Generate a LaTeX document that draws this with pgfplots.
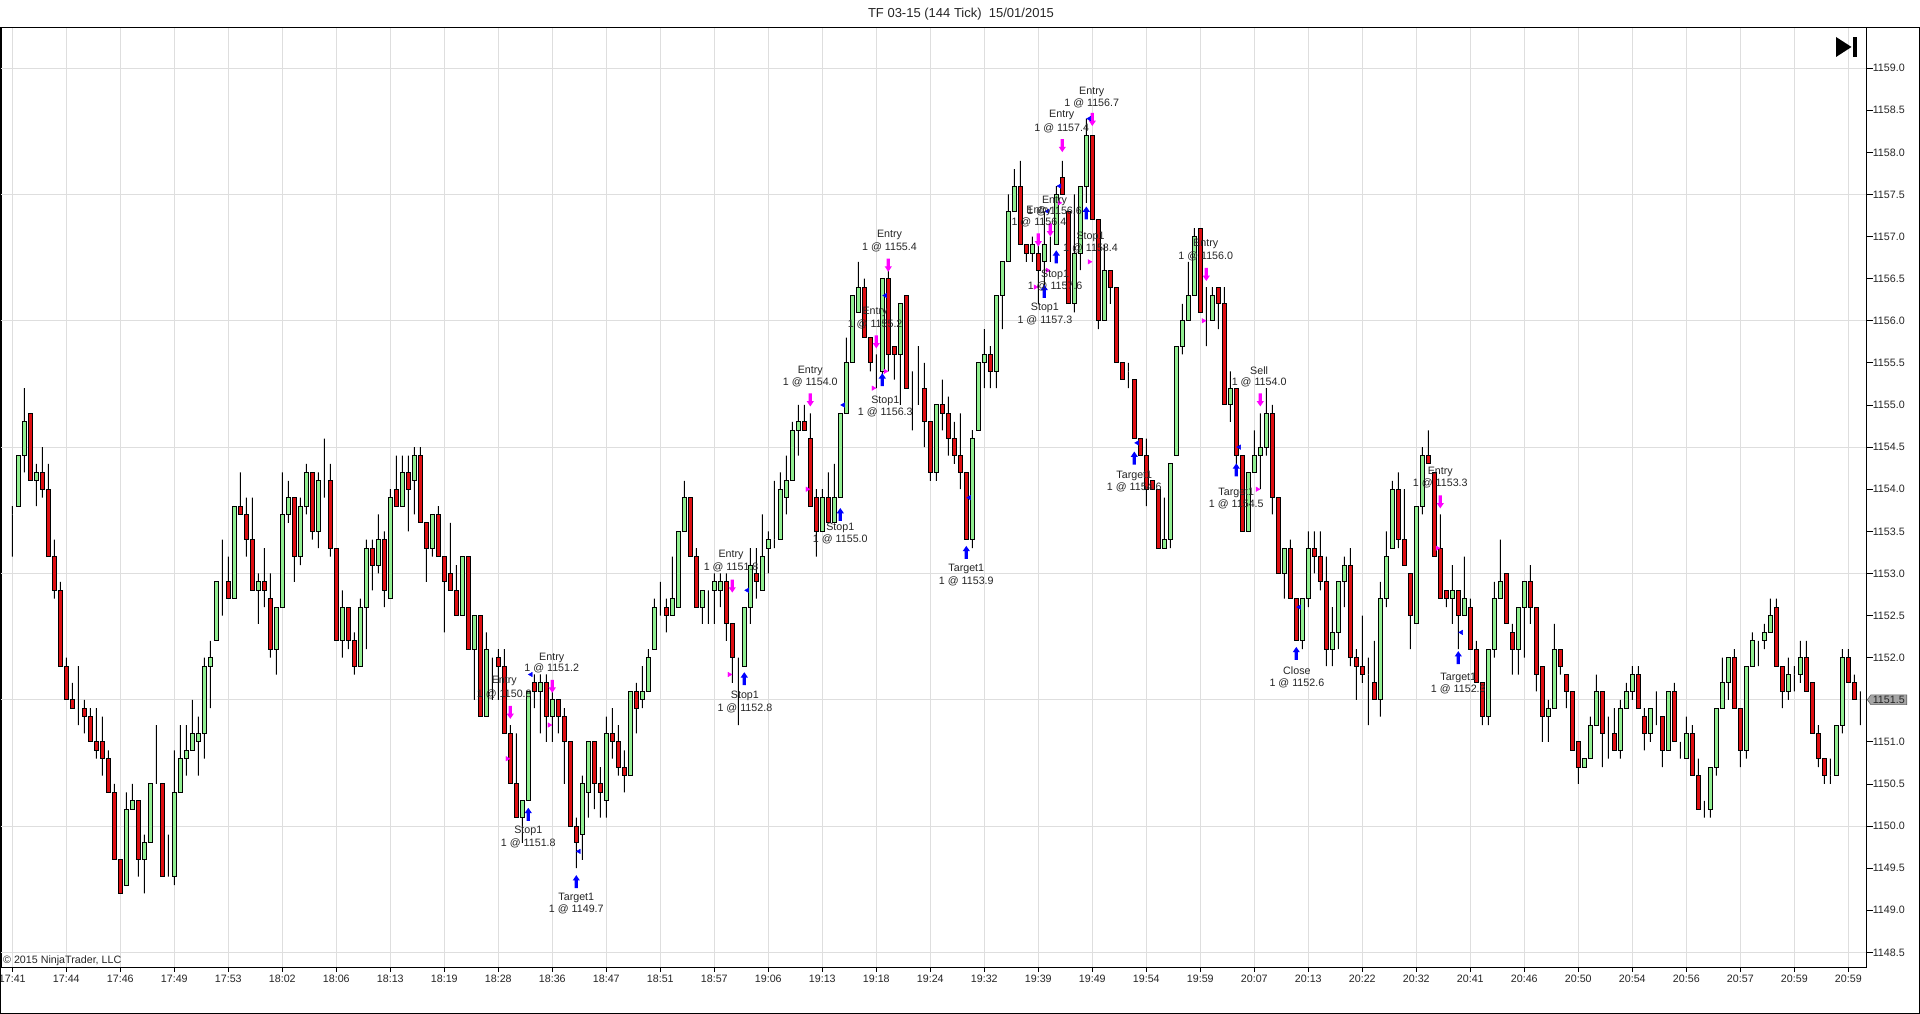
\documentclass[border=0pt]{standalone}
\usepackage{fontspec}
\setmainfont{Liberation Sans}
\usepackage{pgfplots}
\usepackage{pgfplotstable}
\pgfplotsset{compat=1.18}
\usetikzlibrary{shapes.symbols}

\definecolor{upgreen}{RGB}{144,238,144}
\definecolor{dnred}{RGB}{222,14,18}
\definecolor{ntblue}{RGB}{0,0,255}
\definecolor{ntmag}{RGB}{255,0,255}
\definecolor{gridgray}{RGB}{222,222,222}
\definecolor{boxgray}{RGB}{165,165,165}

\newcommand\lbl{\fontsize{10.7}{12}\selectfont}
% prices are drawn relative to this base, so the bars stay short
\newcommand\pbase{1148}

% block arrows used by the order markers
\pgfdeclareplotmark{uparr}{%
  \pgfpathmoveto{\pgfqpoint{0pt}{6.5pt}}%
  \pgfpathlineto{\pgfqpoint{3.6pt}{1.2pt}}%
  \pgfpathlineto{\pgfqpoint{1.6pt}{1.2pt}}%
  \pgfpathlineto{\pgfqpoint{1.6pt}{-6.5pt}}%
  \pgfpathlineto{\pgfqpoint{-1.6pt}{-6.5pt}}%
  \pgfpathlineto{\pgfqpoint{-1.6pt}{1.2pt}}%
  \pgfpathlineto{\pgfqpoint{-3.6pt}{1.2pt}}%
  \pgfpathclose\pgfusepathqfill}
\pgfdeclareplotmark{dnarr}{%
  \pgfpathmoveto{\pgfqpoint{0pt}{-6.5pt}}%
  \pgfpathlineto{\pgfqpoint{3.6pt}{-1.2pt}}%
  \pgfpathlineto{\pgfqpoint{1.6pt}{-1.2pt}}%
  \pgfpathlineto{\pgfqpoint{1.6pt}{6.5pt}}%
  \pgfpathlineto{\pgfqpoint{-1.6pt}{6.5pt}}%
  \pgfpathlineto{\pgfqpoint{-1.6pt}{-1.2pt}}%
  \pgfpathlineto{\pgfqpoint{-3.6pt}{-1.2pt}}%
  \pgfpathclose\pgfusepathqfill}
% empty mark, only carries the label text
\pgfdeclareplotmark{blank}{}

% bar  open  high  low  close
\pgfplotstableread{
x o h l c
0 1153.7 1153.8 1153.2 1153.7
1 1153.8 1154.4 1153.8 1154.4
2 1154.4 1155.2 1154.2 1154.8
3 1154.9 1154.9 1154.1 1154.1
4 1154.1 1154.3 1153.8 1154.2
5 1154.2 1154.5 1153.9 1154.0
6 1154.0 1154.3 1153.2 1153.2
7 1153.2 1153.4 1152.7 1152.8
8 1152.8 1152.9 1151.9 1151.9
9 1151.9 1152.0 1151.5 1151.5
10 1151.5 1151.7 1151.4 1151.4
11 1151.4 1151.9 1151.2 1151.4
12 1151.4 1151.5 1151.1 1151.3
13 1151.3 1151.4 1151.0 1151.0
14 1151.0 1151.4 1150.8 1150.9
15 1151.0 1151.3 1150.6 1150.8
16 1150.8 1150.9 1150.4 1150.4
17 1150.4 1150.5 1149.6 1149.6
18 1149.6 1149.6 1149.2 1149.2
19 1149.3 1150.4 1149.3 1150.2
20 1150.2 1150.5 1150.2 1150.3
21 1150.3 1150.3 1149.4 1149.6
22 1149.6 1149.9 1149.2 1149.8
23 1149.8 1150.5 1149.8 1150.5
24 1150.5 1151.2 1150.5 1150.5
25 1150.5 1150.5 1149.4 1149.4
26 1149.4 1149.9 1149.4 1149.4
27 1149.4 1150.9 1149.3 1150.4
28 1150.4 1151.2 1150.4 1150.8
29 1150.8 1151.2 1150.6 1150.9
30 1150.9 1151.5 1150.9 1151.1
31 1151.0 1151.3 1150.6 1151.1
32 1151.1 1152.0 1150.8 1151.9
33 1151.9 1152.2 1151.4 1152.0
34 1152.2 1152.9 1152.2 1152.9
35 1152.9 1153.4 1152.5 1152.9
36 1152.9 1153.2 1152.7 1152.7
37 1152.7 1153.8 1152.7 1153.8
38 1153.8 1154.2 1153.7 1153.7
39 1153.7 1153.9 1153.2 1153.4
40 1153.4 1153.9 1152.8 1152.8
41 1152.8 1153.0 1152.4 1152.9
42 1152.9 1153.3 1152.6 1152.8
43 1152.7 1153.0 1152.0 1152.1
44 1152.1 1152.6 1151.8 1152.6
45 1152.6 1154.2 1152.6 1153.7
46 1153.7 1154.1 1153.6 1153.9
47 1153.9 1153.9 1152.9 1153.2
48 1153.2 1153.9 1153.1 1153.8
49 1153.8 1154.3 1153.7 1154.2
50 1154.2 1154.2 1153.4 1153.5
51 1153.5 1154.2 1153.3 1154.1
52 1154.1 1154.6 1153.9 1154.1
53 1154.1 1154.3 1153.2 1153.3
54 1153.3 1153.3 1152.2 1152.2
55 1152.2 1152.8 1152.0 1152.6
56 1152.6 1152.6 1152.1 1152.2
57 1152.2 1152.3 1151.8 1151.9
58 1151.9 1152.7 1151.9 1152.6
59 1152.6 1153.4 1152.1 1153.3
60 1153.3 1153.4 1152.8 1153.1
61 1153.1 1153.7 1153.0 1153.4
62 1153.4 1153.5 1152.6 1152.8
63 1152.7 1154.0 1152.7 1153.9
64 1154.0 1154.4 1153.8 1153.8
65 1153.8 1154.4 1153.8 1154.2
66 1154.2 1154.4 1153.5 1154.0
67 1154.1 1154.5 1153.7 1154.4
68 1154.4 1154.5 1153.6 1153.6
69 1153.6 1153.6 1152.9 1153.3
70 1153.3 1153.7 1153.2 1153.7
71 1153.7 1153.8 1153.2 1153.2
72 1153.2 1153.2 1152.3 1152.9
73 1153.0 1153.6 1152.8 1152.8
74 1152.8 1153.1 1152.5 1152.5
75 1152.5 1153.2 1152.5 1153.2
76 1153.2 1153.2 1152.1 1152.1
77 1152.1 1152.5 1151.5 1152.5
78 1152.5 1152.5 1151.3 1151.3
79 1151.3 1152.3 1151.3 1152.1
80 1152.0 1152.0 1151.5 1152.0
81 1152.0 1152.1 1151.5 1151.9
82 1151.9 1152.1 1151.1 1151.1
83 1151.1 1151.2 1150.5 1150.5
84 1150.5 1151.1 1150.1 1150.1
85 1150.1 1150.3 1149.8 1150.3
86 1150.3 1151.6 1150.3 1151.6
87 1151.7 1151.8 1151.4 1151.6
88 1151.6 1151.8 1151.1 1151.7
89 1151.7 1151.8 1151.0 1151.3
90 1151.3 1151.7 1151.0 1151.5
91 1151.5 1151.5 1151.1 1151.3
92 1151.3 1151.4 1150.5 1151.0
93 1151.0 1151.0 1150.0 1150.0
94 1150.0 1150.1 1149.5 1149.8
95 1149.9 1150.6 1149.6 1150.5
96 1150.4 1151.0 1150.1 1151.0
97 1151.0 1151.0 1150.2 1150.5
98 1150.5 1150.7 1150.1 1150.4
99 1150.3 1151.3 1150.1 1151.1
100 1151.1 1151.4 1150.8 1151.0
101 1151.0 1151.2 1150.6 1150.7
102 1150.7 1150.9 1150.4 1150.6
103 1150.6 1151.6 1150.6 1151.6
104 1151.6 1151.7 1151.1 1151.4
105 1151.5 1151.9 1151.4 1151.6
106 1151.6 1152.1 1151.6 1152.0
107 1152.1 1152.7 1152.1 1152.6
108 1152.6 1152.9 1152.5 1152.6
109 1152.6 1152.7 1152.3 1152.5
110 1152.5 1153.2 1152.5 1152.7
111 1152.6 1153.5 1152.6 1153.5
112 1153.5 1154.1 1153.5 1153.9
113 1153.9 1153.9 1153.2 1153.2
114 1153.2 1153.3 1152.6 1152.6
115 1152.6 1152.8 1152.4 1152.8
116 1152.8 1152.8 1152.4 1152.8
117 1152.8 1153.0 1152.4 1152.9
118 1152.8 1153.0 1152.6 1152.9
119 1152.9 1153.0 1152.2 1152.4
120 1152.4 1152.4 1151.7 1152.0
121 1152.0 1152.0 1151.2 1152.0
122 1151.9 1152.6 1151.9 1152.6
123 1152.6 1153.3 1152.4 1153.1
124 1153.0 1153.3 1152.7 1152.9
125 1152.8 1153.7 1152.8 1153.2
126 1153.3 1153.5 1153.0 1153.4
127 1153.4 1154.1 1153.3 1153.4
128 1153.4 1154.2 1153.4 1154.0
129 1153.9 1154.4 1153.7 1154.1
130 1154.1 1154.8 1154.1 1154.7
131 1154.7 1155.0 1154.4 1154.8
132 1154.8 1155.0 1154.7 1154.7
133 1154.6 1154.9 1153.8 1153.8
134 1153.9 1154.0 1153.2 1153.5
135 1153.5 1154.0 1153.5 1153.9
136 1153.9 1154.2 1153.6 1153.6
137 1153.6 1154.3 1153.6 1153.9
138 1153.9 1154.9 1153.9 1154.9
139 1154.9 1155.8 1154.9 1155.5
140 1155.5 1156.3 1155.5 1156.3
141 1156.1 1156.7 1156.1 1156.4
142 1156.4 1156.5 1155.8 1155.8
143 1155.8 1155.8 1155.4 1155.5
144 1155.5 1155.6 1155.2 1155.5
145 1155.4 1156.5 1155.3 1156.5
146 1156.5 1156.7 1155.4 1155.6
147 1155.7 1155.7 1155.3 1155.6
148 1155.6 1156.2 1155.0 1156.2
149 1156.3 1156.3 1155.2 1155.2
150 1155.2 1155.4 1154.7 1155.2
151 1155.2 1155.7 1155.0 1155.2
152 1155.2 1155.5 1154.5 1154.8
153 1154.8 1154.8 1154.1 1154.2
154 1154.2 1155.0 1154.1 1155.0
155 1155.0 1155.3 1154.7 1154.9
156 1154.9 1155.1 1154.4 1154.6
157 1154.6 1154.8 1154.3 1154.4
158 1154.4 1154.9 1154.0 1154.2
159 1154.2 1154.2 1153.4 1153.4
160 1153.4 1154.7 1153.3 1154.6
161 1154.7 1155.5 1154.7 1155.5
162 1155.5 1155.9 1155.2 1155.6
163 1155.6 1155.7 1155.2 1155.4
164 1155.4 1156.3 1155.2 1156.3
165 1156.3 1156.7 1155.9 1156.7
166 1156.7 1157.5 1156.7 1157.3
167 1157.3 1157.8 1157.3 1157.6
168 1157.6 1157.9 1156.9 1156.9
169 1156.9 1156.9 1156.7 1156.8
170 1156.8 1157.0 1156.7 1156.9
171 1156.8 1157.0 1156.2 1156.6
172 1156.7 1157.3 1156.3 1156.9
173 1156.9 1157.0 1156.7 1156.9
174 1156.9 1157.6 1156.9 1157.5
175 1157.7 1157.9 1157.5 1157.5
176 1157.3 1157.3 1156.2 1156.2
177 1156.2 1157.5 1156.1 1156.8
178 1156.8 1157.6 1156.6 1157.6
179 1157.6 1158.4 1157.4 1158.2
180 1158.2 1158.2 1157.2 1157.2
181 1157.2 1157.2 1155.9 1156.0
182 1156.0 1156.9 1156.0 1156.6
183 1156.6 1156.6 1156.2 1156.4
184 1156.4 1156.4 1155.5 1155.5
185 1155.5 1155.5 1155.3 1155.3
186 1155.4 1155.5 1155.2 1155.4
187 1155.3 1155.3 1154.6 1154.6
188 1154.6 1154.6 1154.4 1154.4
189 1154.4 1154.6 1153.8 1154.0
190 1154.1 1154.1 1154.0 1154.0
191 1154.0 1154.0 1153.3 1153.3
192 1153.3 1153.9 1153.3 1153.4
193 1153.4 1154.3 1153.3 1154.3
194 1154.4 1155.7 1154.4 1155.7
195 1155.7 1156.2 1155.6 1156.0
196 1156.0 1156.7 1156.0 1156.3
197 1156.3 1157.1 1156.3 1157.0
198 1157.1 1157.1 1156.1 1156.1
199 1156.0 1156.4 1155.7 1156.0
200 1156.0 1156.4 1156.0 1156.3
201 1156.4 1156.4 1155.9 1156.2
202 1156.2 1156.4 1155.0 1155.0
203 1155.0 1155.4 1154.8 1155.2
204 1155.2 1155.2 1154.3 1154.4
205 1154.4 1154.4 1153.5 1153.5
206 1153.5 1154.2 1153.5 1154.2
207 1154.2 1154.7 1154.2 1154.4
208 1154.4 1154.9 1154.0 1154.5
209 1154.5 1155.2 1154.4 1154.9
210 1154.9 1155.0 1153.7 1153.9
211 1153.9 1153.9 1153.0 1153.0
212 1153.0 1153.3 1152.7 1153.3
213 1153.3 1153.4 1152.7 1152.7
214 1152.7 1152.7 1152.2 1152.2
215 1152.2 1152.7 1152.1 1152.7
216 1152.7 1153.5 1152.6 1153.3
217 1153.3 1153.5 1153.0 1153.2
218 1153.2 1153.5 1152.8 1152.9
219 1152.9 1153.2 1151.9 1152.1
220 1152.1 1152.6 1151.9 1152.3
221 1152.3 1152.9 1152.1 1152.9
222 1152.9 1153.2 1152.6 1153.1
223 1153.1 1153.3 1151.9 1152.0
224 1152.0 1152.1 1151.5 1151.9
225 1151.9 1152.5 1151.7 1151.8
226 1151.8 1152.0 1151.2 1151.8
227 1151.7 1152.2 1151.5 1151.5
228 1151.5 1152.9 1151.3 1152.7
229 1152.7 1153.5 1152.6 1153.2
230 1153.3 1154.1 1153.3 1154.0
231 1154.0 1154.2 1153.3 1153.4
232 1153.4 1154.0 1153.1 1153.1
233 1153.0 1153.0 1152.1 1152.5
234 1152.4 1153.8 1152.4 1153.8
235 1153.8 1154.5 1153.7 1154.4
236 1154.4 1154.7 1154.3 1154.3
237 1154.2 1154.2 1153.2 1153.2
238 1153.3 1153.7 1152.7 1152.7
239 1152.8 1152.8 1152.6 1152.7
240 1152.7 1153.1 1152.4 1152.8
241 1152.8 1152.8 1152.1 1152.5
242 1152.5 1153.2 1152.5 1152.7
243 1152.6 1152.7 1152.1 1152.1
244 1152.1 1152.2 1151.7 1151.7
245 1151.7 1151.7 1151.2 1151.3
246 1151.3 1152.1 1151.2 1152.1
247 1152.1 1152.9 1152.0 1152.7
248 1152.7 1153.4 1152.7 1152.9
249 1153.0 1153.0 1152.4 1152.4
250 1152.3 1152.4 1151.8 1152.1
251 1152.1 1152.6 1151.8 1152.6
252 1152.6 1152.9 1152.0 1152.9
253 1152.9 1153.1 1152.4 1152.6
254 1152.6 1152.6 1151.6 1151.8
255 1151.9 1151.9 1151.0 1151.3
256 1151.3 1151.5 1151.0 1151.4
257 1151.4 1152.4 1151.4 1152.1
258 1152.1 1152.1 1151.8 1151.9
259 1151.8 1151.8 1151.4 1151.6
260 1151.6 1151.6 1150.9 1150.9
261 1151.0 1151.0 1150.5 1150.7
262 1150.7 1150.8 1150.7 1150.8
263 1150.8 1151.3 1150.8 1151.2
264 1151.2 1151.8 1151.2 1151.6
265 1151.6 1151.6 1150.7 1151.1
266 1151.2 1151.3 1150.8 1151.2
267 1151.1 1151.4 1150.9 1150.9
268 1150.9 1151.5 1150.8 1151.4
269 1151.4 1151.7 1151.4 1151.6
270 1151.6 1151.9 1151.5 1151.8
271 1151.8 1151.9 1151.4 1151.4
272 1151.3 1151.4 1150.9 1151.1
273 1151.1 1151.4 1151.0 1151.4
274 1151.4 1151.6 1151.2 1151.4
275 1151.3 1151.3 1150.7 1150.9
276 1150.9 1151.6 1150.9 1151.6
277 1151.6 1151.7 1151.0 1151.0
278 1151.0 1151.0 1150.8 1151.0
279 1150.8 1151.3 1150.8 1151.1
280 1151.1 1151.2 1150.6 1150.6
281 1150.6 1150.8 1150.2 1150.2
282 1150.2 1150.3 1150.1 1150.2
283 1150.2 1150.7 1150.1 1150.7
284 1150.7 1151.4 1150.6 1151.4
285 1151.4 1152.0 1151.4 1151.7
286 1151.7 1152.0 1151.5 1152.0
287 1152.0 1152.1 1151.4 1151.4
288 1151.4 1151.4 1150.7 1150.9
289 1150.9 1151.9 1150.8 1151.9
290 1151.9 1152.3 1151.9 1152.2
291 1152.2 1152.2 1151.9 1152.2
292 1152.2 1152.4 1152.1 1152.3
293 1152.3 1152.7 1152.3 1152.5
294 1152.6 1152.7 1151.9 1151.9
295 1151.9 1151.9 1151.4 1151.6
296 1151.6 1152.0 1151.5 1151.8
297 1151.8 1151.9 1151.6 1151.8
298 1151.8 1152.2 1151.7 1152.0
299 1152.0 1152.2 1151.6 1151.6
300 1151.7 1151.7 1151.1 1151.1
301 1151.1 1151.2 1150.7 1150.8
302 1150.8 1150.8 1150.5 1150.6
303 1150.6 1150.8 1150.5 1150.6
304 1150.6 1151.2 1150.6 1151.2
305 1151.2 1152.1 1151.1 1152.0
306 1152.0 1152.1 1151.7 1151.7
307 1151.7 1151.8 1151.5 1151.5
308 1151.5 1151.6 1151.2 1151.5
}\candles

\begin{document}
\begin{tikzpicture}[x=1pt,y=1pt]
\useasboundingbox (0,0) rectangle (1920,1014);
\fill[white] (0,0) rectangle (1920,1014);

\begin{axis}[
    at={(1pt,46pt)}, anchor=south west,
    width=1865pt, height=940.3pt, scale only axis,
    xmin=-1.88, xmax=308.95,
    ymin=0.315, ymax=11.48,
    axis line style={black, line width=1pt},
    xtick={0,9,...,306},
    xticklabels={17:41,17:44,17:46,17:49,17:53,18:02,18:06,18:13,18:19,18:28,18:36,18:47,18:51,18:57,19:06,19:13,19:18,19:24,19:32,19:39,19:49,19:54,19:59,20:07,20:13,20:22,20:32,20:41,20:46,20:50,20:54,20:56,20:57,20:59,20:59},
    xtick pos=bottom,
    ytick={0.5,1,...,11},
    yticklabel pos=right,
    ytick pos=right,
    tick align=outside,
    xtick style={black, line width=0.8pt, /pgfplots/major tick length=4pt},
    ytick style={black, line width=0.8pt, /pgfplots/major tick length=7pt},
    yticklabel={\pgfmathparse{\tick+\pbase}\pgfmathprintnumber[fixed,fixed zerofill,precision=1,1000 sep={},assume math mode=true]{\pgfmathresult}},
    ticklabel style={font=\lbl, text=black!85},
    yticklabel style={xshift=-1pt},
    xticklabel style={yshift=1pt},
    xmajorgrids=true,
    major grid style={gridgray, line width=1pt},
    extra y ticks={0.5,2,3.5,5,6.5,8,9.5,11},
    extra y tick labels={},
    extra y tick style={grid=major, ytick style={draw=none}},
]

% candles, stacked up from the low: lower wick, body, upper wick
\addplot[ybar stacked, bar shift=0pt, bar width=1pt, draw=none, fill=none, forget plot]
    table[x=x, y expr={\thisrow{l}-\pbase}] {\candles};
\addplot[ybar stacked, bar shift=0pt, bar width=1pt, draw=none, fill=black, forget plot]
    table[x=x, y expr={min(\thisrow{o},\thisrow{c})-\thisrow{l}}] {\candles};
\addplot[ybar stacked, bar shift=0pt, bar width=0.62, draw=black, line width=1pt, fill=upgreen, forget plot]
    table[x=x, y expr={max(\thisrow{c}-\thisrow{o},0)}] {\candles};
\addplot[ybar stacked, bar shift=0pt, bar width=0.62, draw=black, line width=1pt, fill=dnred, forget plot]
    table[x=x, y expr={max(\thisrow{o}-\thisrow{c},0)}] {\candles};
\addplot[ybar stacked, bar shift=0pt, bar width=1pt, draw=none, fill=black, forget plot]
    table[x=x, y expr={\thisrow{h}-max(\thisrow{o},\thisrow{c})}] {\candles};

% exits and entries
\pgfplotsset{every axis plot post/.append style={y filter/.expression={y-\pbase}}}
\addplot[only marks, mark=uparr, color=ntblue, forget plot] coordinates {
 (86,1150.14) (94,1149.34) (122,1151.75) (138,1153.70) (145,1155.30) (159,1153.25)
 (172,1156.35) (174,1156.76) (179,1157.28) (187,1154.37) (204,1154.23) (214,1152.05) (241,1152.00)};
\addplot[only marks, mark=dnarr, color=ntmag, forget plot] coordinates {
 (83,1151.35) (90,1151.66) (120,1152.85) (133,1155.06) (144,1155.75) (146,1156.66)
 (171,1156.96) (173,1157.08) (175,1158.08) (180,1158.39) (199,1156.55) (208,1155.06) (238,1153.85)};
\addplot[only marks, mark=triangle*, mark size=2.6pt, color=ntblue, mark options={rotate=90}, forget plot] coordinates {
 (86.45,1151.8) (94.45,1149.7) (122.5,1152.8) (138.5,1155.0) (145.5,1156.3) (159.5,1153.9)
 (172.55,1157.3) (174.55,1157.6) (179.5,1158.4) (187.5,1154.55) (204.5,1154.5) (214.5,1152.6) (241.5,1152.3)};
\addplot[only marks, mark=triangle*, mark size=2.6pt, color=ntmag, mark options={rotate=-90}, forget plot] coordinates {
 (82.5,1150.8) (89.5,1151.2) (119.5,1151.8) (132.5,1154.0) (143.5,1155.2) (145.5,1155.4)
 (170.5,1156.4) (172.5,1156.6) (174.5,1157.4) (179.5,1156.7) (198.5,1156.0) (207.5,1154.0) (237.5,1153.3)};

% order labels
\addplot[only marks, mark=blank, forget plot,
    point meta=explicit symbolic, nodes near coords,
    nodes near coords style={anchor=center, inner sep=0pt, font=\lbl, text=black!85}]
    coordinates {
 (82,1151.72) [Entry] (82,1151.56) [1 @ 1150.8]
 (86,1149.94) [Stop1] (86,1149.80) [1 @ 1151.8]
 (89.9,1152.00) [Entry] (89.9,1151.87) [1 @ 1151.2]
 (94,1149.15) [Target1] (94,1149.01) [1 @ 1149.7]
 (119.8,1153.22) [Entry] (119.8,1153.07) [1 @ 1151.8]
 (122.1,1151.55) [Stop1] (122.1,1151.40) [1 @ 1152.8]
 (133,1155.40) [Entry] (133,1155.27) [1 @ 1154.0]
 (138,1153.54) [Stop1] (138,1153.41) [1 @ 1155.0]
 (143.8,1156.10) [Entry] (143.8,1155.96) [1 @ 1155.2]
 (145.5,1155.05) [Stop1] (145.5,1154.91) [1 @ 1156.3]
 (146.2,1157.02) [Entry] (146.2,1156.87) [1 @ 1155.4]
 (159,1153.05) [Target1] (159,1152.91) [1 @ 1153.9]
 (171.1,1157.30) [Entry] (171.1,1157.17) [1 @ 1156.4]
 (173.7,1157.42) [Entry] (173.7,1157.30) [1 @ 1156.6]
 (173.8,1156.55) [Stop1] (173.8,1156.41) [1 @ 1157.6]
 (172.1,1156.15) [Stop1] (172.1,1156.01) [1 @ 1157.3]
 (174.9,1158.44) [Entry] (174.9,1158.29) [1 @ 1157.4]
 (179.9,1158.72) [Entry] (179.9,1158.58) [1 @ 1156.7]
 (179.7,1157.00) [Stop1] (179.7,1156.86) [1 @ 1158.4]
 (187,1154.16) [Target1] (187,1154.02) [1 @ 1154.6]
 (198.9,1156.91) [Entry] (198.9,1156.77) [1 @ 1156.0]
 (207.8,1155.41) [Sell] (207.8,1155.27) [1 @ 1154.0]
 (204,1153.95) [Target1] (204,1153.82) [1 @ 1154.5]
 (214.1,1151.84) [Close] (214.1,1151.70) [1 @ 1152.6]
 (238,1154.20) [Entry] (238,1154.07) [1 @ 1153.3]
 (241,1151.76) [Target1] (241,1151.62) [1 @ 1152.3]
};

\coordinate (last) at (axis cs:308.95,3.5);
\end{axis}

% frame, title and chart furniture
\draw[black, line width=1.2pt] (0.6,0.6) rectangle (1919.4,986.3);
\node[font=\fontsize{13}{15}\selectfont, text=black!85] at (961,999.5) {TF 03-15 (144 Tick)\ \ 15/01/2015};
\node[anchor=west, font=\lbl, text=black!85, inner sep=0pt] at (3,53) {\textcopyright{} 2015 NinjaTrader, LLC};
\fill[black] (1836,977) -- (1836,957) -- (1851.5,967) -- cycle;
\fill[black] (1853,957) rectangle (1857,977);
\node[signal, signal to=west, signal pointer angle=110, fill=boxgray, draw=black!60, line width=0.6pt,
      anchor=west, font=\lbl, text=black!85, inner xsep=2pt, inner ysep=1.2pt] at ([xshift=1pt]last) {1151.5};
\end{tikzpicture}
\end{document}
